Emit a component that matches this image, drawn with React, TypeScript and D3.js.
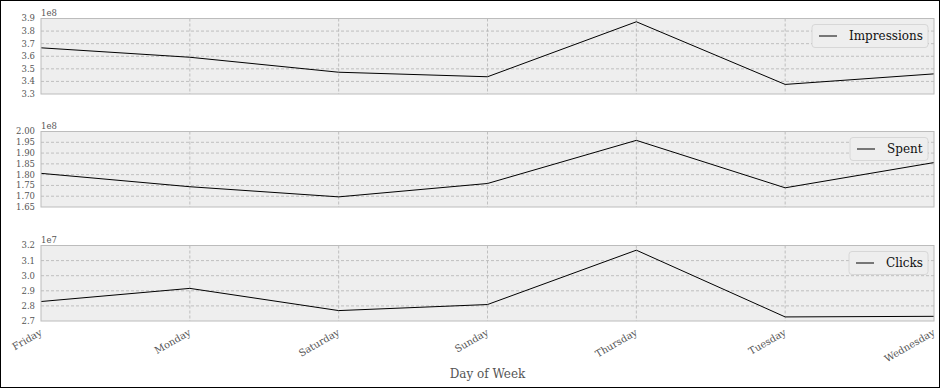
import * as d3 from 'd3';

const days = ['Friday', 'Monday', 'Saturday', 'Sunday', 'Thursday', 'Tuesday', 'Wednesday'];
const impressions = [366700000, 359200000, 347300000, 343700000, 387400000, 337600000, 346000000];
const spent = [180600000, 174400000, 169700000, 175900000, 195900000, 173900000, 185600000];
const clicks = [28290000, 29160000, 27690000, 28090000, 31690000, 27270000, 27310000];

const impressionTicks = [3.3, 3.4, 3.5, 3.6, 3.7, 3.8, 3.9];
const spentTicks = [1.65, 1.7, 1.75, 1.8, 1.85, 1.9, 1.95, 2.0];
const clickTicks = [2.7, 2.8, 2.9, 3.0, 3.1, 3.2];

const W = 941;
const H = 389;
const left = 41;
const right = 934;
const font = '"DejaVu Serif", serif';

const panels = [
  { name: 'Impressions', values: impressions, ticks: impressionTicks, exp: 8, digits: 1, top: 18.5, legendW: 116 },
  { name: 'Spent', values: spent, ticks: spentTicks, exp: 8, digits: 2, top: 131.5, legendW: 78 },
  { name: 'Clicks', values: clicks, ticks: clickTicks, exp: 7, digits: 1, top: 245.5, legendW: 79 },
];
const panelH = 75.5;

export default function App() {
  const x = d3.scalePoint<string>().domain(days).range([left, right]);

  return (
    <svg width={W} height={H} style={{ position: 'absolute', left: 0, top: 0, background: '#fff' }} fontFamily={font}>
      <rect x={0.5} y={0.5} width={W - 2} height={H - 2} fill="#fff" stroke="#000" />
      {panels.map((p) => {
        const scale = Math.pow(10, p.exp);
        const y = d3
          .scaleLinear()
          .domain([p.ticks[0], p.ticks[p.ticks.length - 1]])
          .range([p.top + panelH, p.top]);
        const fmt = d3.format(`.${p.digits}f`);
        const line = d3
          .line<number>()
          .x((_, i) => x(days[i]) ?? 0)
          .y((v) => y(v / scale));
        const lx = right - 6 - p.legendW;
        const ly = p.top + 6;
        return (
          <g key={p.name}>
            <rect x={left} y={p.top} width={right - left} height={panelH} fill="#eeeeee" />
            {p.ticks.slice(1, -1).map((t) => (
              <line key={t} x1={left} x2={right} y1={y(t)} y2={y(t)} stroke="#b2b2b2" strokeWidth={0.8} strokeDasharray="3,2" />
            ))}
            {days.slice(1, -1).map((d) => (
              <line key={d} x1={x(d)} x2={x(d)} y1={p.top} y2={p.top + panelH} stroke="#b2b2b2" strokeWidth={0.8} strokeDasharray="3,2" />
            ))}
            <path d={line(p.values) ?? ''} fill="none" stroke="#000" strokeWidth={1} />
            <rect x={left} y={p.top} width={right - left} height={panelH} fill="none" stroke="#bcbcbc" strokeWidth={1} />
            {p.ticks.map((t) => (
              <text key={t} x={35} y={y(t)} dy="0.35em" textAnchor="end" fontSize={8.5} fill="#555">
                {fmt(t)}
              </text>
            ))}
            <text x={left} y={p.top - 3} fontSize={8.5} fill="#555">
              {`1e${p.exp}`}
            </text>
            <rect x={lx} y={ly} width={p.legendW} height={23} rx={3} fill="#eeeeee" stroke="#d0d0d0" strokeWidth={0.8} />
            <line x1={lx + 7} x2={lx + 25} y1={ly + 11.5} y2={ly + 11.5} stroke="#000" strokeWidth={1} />
            <text x={lx + 37} y={ly + 11.5} dy="0.35em" fontSize={12} fill="#111">
              {p.name}
            </text>
          </g>
        );
      })}
      {days.map((d) => (
        <text
          key={d}
          transform={`translate(${(x(d) ?? 0) - 2},${panels[2].top + panelH + 7}) rotate(-30)`}
          textAnchor="end"
          dy="0.75em"
          fontSize={9.8}
          fill="#555"
        >
          {d}
        </text>
      ))}
      <text x={(left + right) / 2} y={378} textAnchor="middle" fontSize={12} fill="#555">
        Day of Week
      </text>
    </svg>
  );
}
